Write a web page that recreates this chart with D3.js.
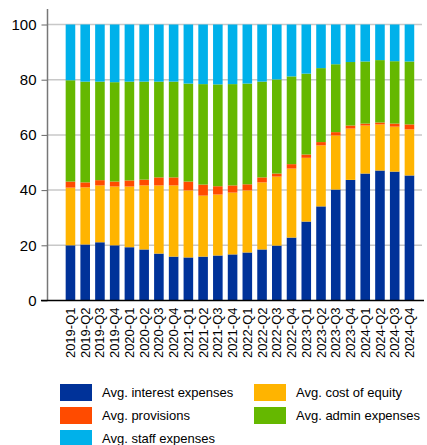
<!DOCTYPE html>
<html>
<head>
<meta charset="utf-8">
<script src="https://cdn.jsdelivr.net/npm/d3@7"></script>
<style>
  body { margin: 0; background: #fff; }
  svg text { font-family: "Liberation Sans", Arial, sans-serif; fill: #000; }
</style>
</head>
<body>
<div id="chart"></div>
<script>
// quarters on the x axis
var quarters = ["2019-Q1","2019-Q2","2019-Q3","2019-Q4","2020-Q1","2020-Q2","2020-Q3","2020-Q4",
  "2021-Q1","2021-Q2","2021-Q3","2021-Q4","2022-Q1","2022-Q2","2022-Q3","2022-Q4",
  "2023-Q1","2023-Q2","2023-Q3","2023-Q4","2024-Q1","2024-Q2","2024-Q3","2024-Q4"];

// shares in percent
var interest   = [20.0,20.3,21.1,20.0,19.3,18.5,17.0,15.9,15.6,15.9,16.3,16.7,17.4,18.5,19.9,22.8,28.6,34.1,40.2,43.7,46.0,47.1,46.7,45.3];
var equity     = [20.9,20.7,20.6,21.3,22.0,23.2,24.7,25.8,24.3,22.1,22.1,22.4,22.5,24.3,25.0,25.0,23.1,22.1,19.6,18.6,17.4,16.7,16.3,16.7];
var provisions = [2.2,1.8,1.9,1.8,2.2,2.1,2.9,2.9,3.2,4.0,3.0,2.6,2.2,1.8,1.1,1.6,1.2,1.2,1.2,1.1,0.7,0.7,1.1,1.8];
var admin      = [36.7,36.5,35.7,36.0,35.8,35.5,34.7,34.7,35.5,36.4,36.9,36.7,36.5,34.7,34.1,31.8,29.3,26.8,24.6,23.0,22.5,22.6,22.6,22.8];
var staff      = [20.2,20.7,20.7,20.9,20.7,20.7,20.7,20.7,21.4,21.6,21.7,21.6,21.4,20.7,19.9,18.8,17.8,15.8,14.4,13.6,13.4,12.9,13.3,13.4];

var y_ticks = [0,20,40,60,80,100];

var series = [
  {key:"interest",   name:"Avg. interest expenses", color:"#003299", values:interest},
  {key:"equity",     name:"Avg. cost of equity",    color:"#FFB400", values:equity},
  {key:"provisions", name:"Avg. provisions",        color:"#FF4B00", values:provisions},
  {key:"admin",      name:"Avg. admin expenses",    color:"#65B800", values:admin},
  {key:"staff",      name:"Avg. staff expenses",    color:"#00B1EA", values:staff}
];

// legend layout: column 1 / column 2
var legend_order = [["interest",0,0],["equity",1,0],["provisions",0,1],["admin",1,1],["staff",0,2]];

function draw(){
  var W = 427, H = 445;
  var axis_x = 47.5;
  var plot_right = 422;
  var svg = d3.select("#chart").append("svg").attr("width", W).attr("height", H);

  var rows = quarters.map(function(q, i){
    var r = {q: q};
    series.forEach(function(s){ r[s.key] = s.values[i]; });
    return r;
  });
  var stack = d3.stack().keys(series.map(function(s){ return s.key; }))(rows);

  var x = d3.scaleBand().domain(quarters).range([58.3, 421.6]).paddingInner(0.35).paddingOuter(0.5);
  var y = d3.scaleLinear().domain([0, 100]).range([300.5, 24.5]);

  // grid lines
  svg.append("g").selectAll("line").data(y_ticks.slice(1)).enter().append("line")
    .attr("x1", axis_x).attr("x2", plot_right)
    .attr("y1", function(d){ return y(d); }).attr("y2", function(d){ return y(d); })
    .attr("stroke", "#c8c8c8").attr("stroke-width", 1.5);

  // bars
  svg.append("g").selectAll("g").data(stack).enter().append("g")
    .attr("fill", function(d, i){ return series[i].color; })
    .selectAll("rect").data(function(d){ return d; }).enter().append("rect")
    .attr("x", function(d){ return x(d.data.q); })
    .attr("width", x.bandwidth())
    .attr("y", function(d){ return y(d[1]); })
    .attr("height", function(d){ return y(d[0]) - y(d[1]); });

  // y axis
  var yAxis = svg.append("g").attr("transform", "translate(" + axis_x + ",0)")
    .call(d3.axisLeft(y).tickValues(y_ticks).tickSize(6).tickPadding(5));
  yAxis.select(".domain").remove();
  yAxis.selectAll(".tick line").attr("stroke", "#666");
  yAxis.selectAll("text").style("font-size", "15px");
  svg.append("line").attr("x1", axis_x).attr("x2", axis_x)
    .attr("y1", 9).attr("y2", 300.5).attr("stroke", "#777").attr("stroke-width", 1.5);

  // x axis
  var xAxis = svg.append("g").attr("transform", "translate(0,300.5)")
    .call(d3.axisBottom(x).tickSize(0).tickPadding(0));
  xAxis.select(".domain").remove();
  xAxis.selectAll("text")
    .style("font-size", "13px")
    .attr("text-anchor", "end")
    .attr("dy", "0.35em")
    .attr("transform", "translate(0,7) rotate(-90)");
  svg.append("line").attr("x1", 41).attr("x2", 424)
    .attr("y1", 300.5).attr("y2", 300.5).attr("stroke", "#000").attr("stroke-width", 1.5);

  // legend
  var lg = svg.append("g");
  legend_order.forEach(function(l){
    var s = series.filter(function(d){ return d.key === l[0]; })[0];
    var gx = l[1] === 0 ? 60 : 254;
    var gy = 384 + l[2] * 23;
    lg.append("rect").attr("x", gx).attr("y", gy).attr("width", 32).attr("height", 17).attr("fill", s.color);
    lg.append("text").attr("x", gx + 42).attr("y", gy + 8.5).attr("dy", "0.35em")
      .style("font-size", "13px").text(s.name);
  });
}

draw();
</script>
</body>
</html>
